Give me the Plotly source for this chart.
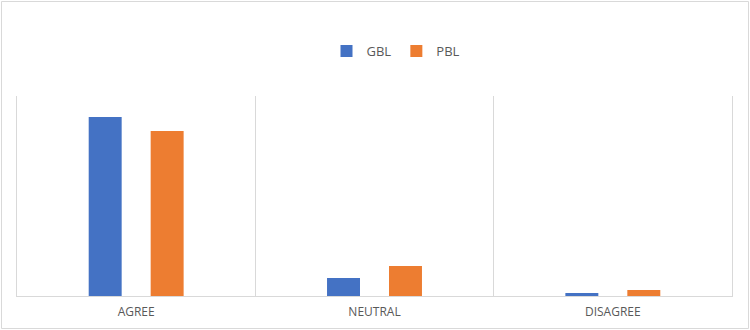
import plotly.graph_objects as go

categories = ["AGREE", "NEUTRAL", "DISAGREE"]
gbl_values = [89.5, 9, 1.5]
pbl_values = [82.5, 15, 3]
series_names = ["GBL", "PBL"]

fig = go.Figure()
fig.add_trace(go.Bar(x=categories, y=gbl_values, name=series_names[0],
                     marker=dict(color="#4472C4", line=dict(width=0))))
fig.add_trace(go.Bar(x=categories, y=pbl_values, name=series_names[1],
                     marker=dict(color="#ED7D31", line=dict(width=0))))

L, R, T, B = 17, 18, 96, 34
W, H = 750, 330
pw, ph = W - L - R, H - T - B

def px_x(p):
    return (p - L) / pw

def px_y(p):
    return (H - B - p) / ph

fig.update_layout(
    width=W, height=H,
    margin=dict(l=L, r=R, t=T, b=B, pad=0, autoexpand=False),
    paper_bgcolor="white", plot_bgcolor="white",
    barmode="group", bargap=0.48, bargroupgap=0.468,
    font=dict(family="Open Sans", color="#595959", size=12),
    showlegend=True,
    legend=dict(orientation="h", x=px_x(396), y=px_y(51), xanchor="center", yanchor="middle",
                font=dict(size=13, color="#595959"), itemwidth=30, tracegroupgap=0,
                bgcolor="rgba(0,0,0,0)"),
    xaxis=dict(type="category", tickson="boundaries", showgrid=True, gridcolor="#d9d9d9",
               gridwidth=1, showline=True, linecolor="#d9d9d9", linewidth=1,
               ticks="", tickfont=dict(size=12, color="#595959"), zeroline=False,
               ticklabelstandoff=5, automargin=False),
    yaxis=dict(range=[0, 100], visible=True, showticklabels=False, ticks="",
               showgrid=False, zeroline=False, showline=True, mirror=True,
               linecolor="#d9d9d9", linewidth=1, automargin=False),
    shapes=[dict(type="rect", xref="paper", yref="paper",
                 x0=px_x(1.5), x1=px_x(748.5), y0=px_y(328.5), y1=px_y(1.5),
                 line=dict(color="#d9d9d9", width=1), layer="below")],
)

fig.write_html("out.html")
